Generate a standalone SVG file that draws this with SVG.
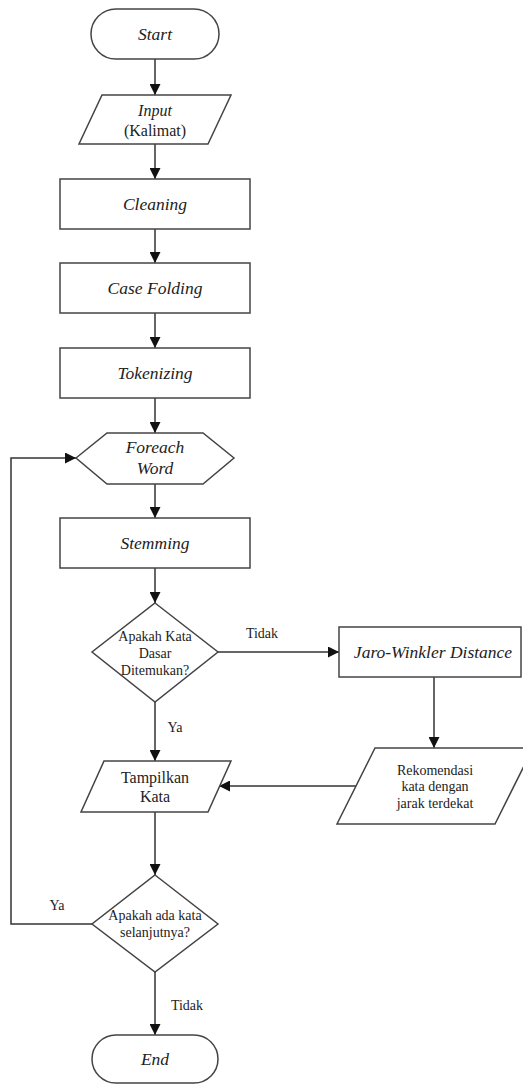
<svg xmlns="http://www.w3.org/2000/svg" width="523" height="1084" viewBox="0 0 523 1084" font-family="'Liberation Serif', 'Times New Roman', Tinos, 'DejaVu Serif', serif">
<style>
.s{fill:#fff;stroke:#444;stroke-width:1.5}
.c{fill:none;stroke:#333;stroke-width:1.5}
text{font-family:'Liberation Serif','Times New Roman',Tinos,'DejaVu Serif',serif;fill:#222;text-anchor:middle}
.it{font-style:italic;font-size:17.5px}
.rg{font-size:16px}
.sm{font-size:14px}
</style>
<defs>
<marker id="ah" markerUnits="userSpaceOnUse" markerWidth="11" markerHeight="11" refX="11" refY="5.5" orient="auto">
<path d="M0,0 L11,5.5 L0,11 z" fill="#111"/>
</marker>
</defs>
<rect width="523" height="1084" fill="#fff"/>
<g id="connectors">
<line class="c" x1="155" y1="59" x2="155" y2="95" marker-end="url(#ah)"/>
<line class="c" x1="155" y1="144" x2="155" y2="179" marker-end="url(#ah)"/>
<line class="c" x1="155" y1="229" x2="155" y2="263" marker-end="url(#ah)"/>
<line class="c" x1="155" y1="313" x2="155" y2="348" marker-end="url(#ah)"/>
<line class="c" x1="155" y1="398" x2="155" y2="433" marker-end="url(#ah)"/>
<line class="c" x1="155" y1="484" x2="155" y2="518" marker-end="url(#ah)"/>
<line class="c" x1="155" y1="568" x2="155" y2="603" marker-end="url(#ah)"/>
<line class="c" x1="218" y1="652" x2="339" y2="652" marker-end="url(#ah)"/>
<line class="c" x1="434" y1="677" x2="434" y2="748" marker-end="url(#ah)"/>
<line class="c" x1="356" y1="786" x2="219" y2="786" marker-end="url(#ah)"/>
<line class="c" x1="155" y1="702" x2="155" y2="761" marker-end="url(#ah)"/>
<line class="c" x1="155" y1="812" x2="155" y2="875" marker-end="url(#ah)"/>
<line class="c" x1="155" y1="972" x2="155" y2="1035" marker-end="url(#ah)"/>
<polyline class="c" points="92,924 11,924 11,458 76,458" marker-end="url(#ah)"/>
<text class="sm" x="262" y="638">Tidak</text>
<text class="sm" x="175" y="732">Ya</text>
<text class="sm" x="57" y="910">Ya</text>
<text class="sm" x="187" y="1010">Tidak</text>
</g>
<g id="start">
<rect class="s" x="91" y="9" width="128" height="50" rx="25" ry="25"/>
<text class="it" x="155" y="40">Start</text>
</g>
<g id="input">
<polygon class="s" points="102,95 231,95 208,144 79,144"/>
<text class="rg" x="155" y="116" font-style="italic">Input</text>
<text class="rg" x="155" y="136">(Kalimat)</text>
</g>
<g id="cleaning">
<rect class="s" x="60" y="179" width="190" height="50"/>
<text class="it" x="155" y="210">Cleaning</text>
</g>
<g id="casefolding">
<rect class="s" x="60" y="263" width="190" height="50"/>
<text class="it" x="155" y="294">Case Folding</text>
</g>
<g id="tokenizing">
<rect class="s" x="60" y="348" width="190" height="50"/>
<text class="it" x="155" y="379">Tokenizing</text>
</g>
<g id="foreach">
<polygon class="s" points="76,458 107,433 203,433 234,458 203,484 107,484"/>
<text class="it" x="155" y="453">Foreach</text>
<text class="it" x="155" y="474">Word</text>
</g>
<g id="stemming">
<rect class="s" x="60" y="518" width="190" height="50"/>
<text class="it" x="155" y="549">Stemming</text>
</g>
<g id="decision1">
<polygon class="s" points="155,603 218,652 155,702 92,652"/>
<text class="sm" x="155" y="641">Apakah Kata</text>
<text class="sm" x="155" y="658">Dasar</text>
<text class="sm" x="155" y="675">Ditemukan?</text>
</g>
<g id="jaro">
<rect class="s" x="339" y="627" width="182" height="50"/>
<text class="it" x="433" y="658">Jaro-Winkler Distance</text>
</g>
<g id="rekomendasi">
<polygon class="s" points="375,748 533,748 495,824 337,824"/>
<text class="sm" x="435" y="775">Rekomendasi</text>
<text class="sm" x="435" y="791">kata dengan</text>
<text class="sm" x="435" y="808">jarak terdekat</text>
</g>
<g id="tampilkan">
<polygon class="s" points="104,761 231,761 208,812 81,812"/>
<text class="rg" x="155" y="783">Tampilkan</text>
<text class="rg" x="155" y="802">Kata</text>
</g>
<g id="decision2">
<polygon class="s" points="155,875 218,924 155,972 92,924"/>
<text class="sm" x="155" y="920">Apakah ada kata</text>
<text class="sm" x="155" y="937">selanjutnya?</text>
</g>
<g id="end">
<rect class="s" x="92" y="1035" width="126" height="48" rx="24" ry="24"/>
<text class="it" x="155" y="1065">End</text>
</g>
</svg>
